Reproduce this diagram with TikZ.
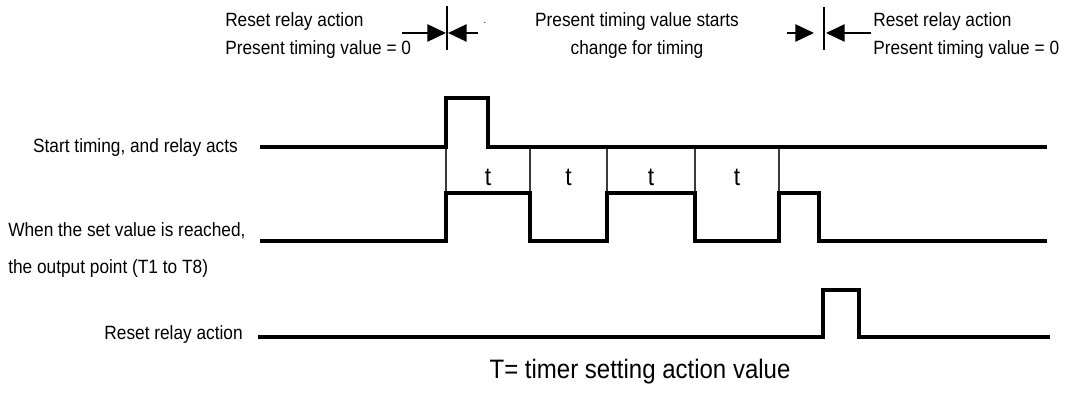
\documentclass[tikz,border=0pt]{standalone}
\usepackage{fontspec}
\setmainfont{Liberation Sans}[FakeStretch=0.9]
\usetikzlibrary{arrows.meta,positioning}
\definecolor{tmblack}{HTML}{000000}
\definecolor{tmthin}{HTML}{3A3A3A}

\begin{document}
\begin{tikzpicture}[
  x=0.75pt, y=-0.75pt,
  lbl/.style={inner sep=0pt, font=\fontsize{14.4}{17}\selectfont, text=tmblack},
  biglbl/.style={inner sep=0pt, font=\fontsize{20}{24}\selectfont, text=tmblack},
  tlbl/.style={inner sep=0pt, font=\fontsize{19}{22}\selectfont, text=tmblack},
  wave/.style={tmblack, line width=2.4pt, line join=miter},
  resetwave/.style={tmblack, line width=3.1pt, line join=miter},
  tick/.style={tmthin, line width=1.2pt},
  markline/.style={tmblack, line width=1.1pt},
  head/.style={-{Triangle[length=14pt,width=13pt]}, tmblack, line width=1.1pt},
]
\useasboundingbox (0,0) rectangle (1069,392);

% Header texts above the markers
\node[lbl, anchor=base west] (rstA)  at (225,27)  {Reset relay action};
\node[lbl, anchor=base west] (zeroA) at (225,55)  {Present timing value = 0};
\node[lbl, anchor=base]      (chgA)  at (637,27)  {Present timing value starts};
\node[lbl, anchor=base]      (chgB)  at (637,55)  {change for timing};
\node[lbl, anchor=base west] (rstB)  at (873,27)  {Reset relay action};
\node[lbl, anchor=base west] (zeroB) at (873,55)  {Present timing value = 0};
\node[lbl, font=\fontsize{8}{9}\selectfont] (dot) at (485,23) {.};

% Marker 1 (reset at start)
\coordinate (m1top) at (447,6);   \coordinate (m1bot) at (447,50);
\coordinate (m1l)   at (402,33);  \coordinate (m1lt)  at (446,33);
\coordinate (m1r)   at (478,33);  \coordinate (m1rt)  at (448,33);
\draw[markline] (m1top) -- (m1bot);
\draw[head] (m1l) -- (m1lt);
\draw[head] (m1r) -- (m1rt);

% Marker 2 (reset at end)
\coordinate (m2top) at (824,7);   \coordinate (m2bot) at (824,50);
\coordinate (m2l)   at (787,33);  \coordinate (m2lt)  at (814,33);
\coordinate (m2r)   at (871,33);  \coordinate (m2rt)  at (826,33);
\draw[markline] (m2top) -- (m2bot);
\draw[head] (m2l) -- (m2lt);
\draw[head] (m2r) -- (m2rt);

% Signal names
\node[lbl, anchor=base east] (startlbl) at (238,152) {Start timing, and relay acts};
\node[lbl, anchor=base west] (outlblA)  at (8,236)   {When the set value is reached,};
\node[lbl, anchor=base west] (outlblB)  at (8,273)   {the output point (T1 to T8)};
\node[lbl, anchor=base east] (rstlbl)   at (243,339) {Reset relay action};

% Timing intervals t
\foreach \xa/\xb [count=\i] in {446/530, 530/607, 607/695, 695/779} {
  \draw[tick] (\xb,147) -- (\xb,193);
  \node[tlbl, anchor=base] (t\i) at ({(\xa+\xb)/2},185) {t};
}
\draw[tick] (446,147) -- (446,193);

% Waveforms
\draw[wave] (260,147) -- (446,147) -- (446,98) -- (488,98) -- (488,147) -- (1047,147);
\draw[wave] (260,241) -- (446,241) -- (446,193) -- (530,193) -- (530,241)
  -- (607,241) -- (607,193) -- (695,193) -- (695,241) -- (779,241)
  -- (779,193) -- (819,193) -- (819,241) -- (1047,241);
\draw[resetwave] (258,337) -- (823,337) -- (823,290) -- (859,290) -- (859,337) -- (1050,337);

% Footnote
\node[biglbl, anchor=base] (note) at (640,378) {T= timer setting action value};

\end{tikzpicture}
\end{document}
